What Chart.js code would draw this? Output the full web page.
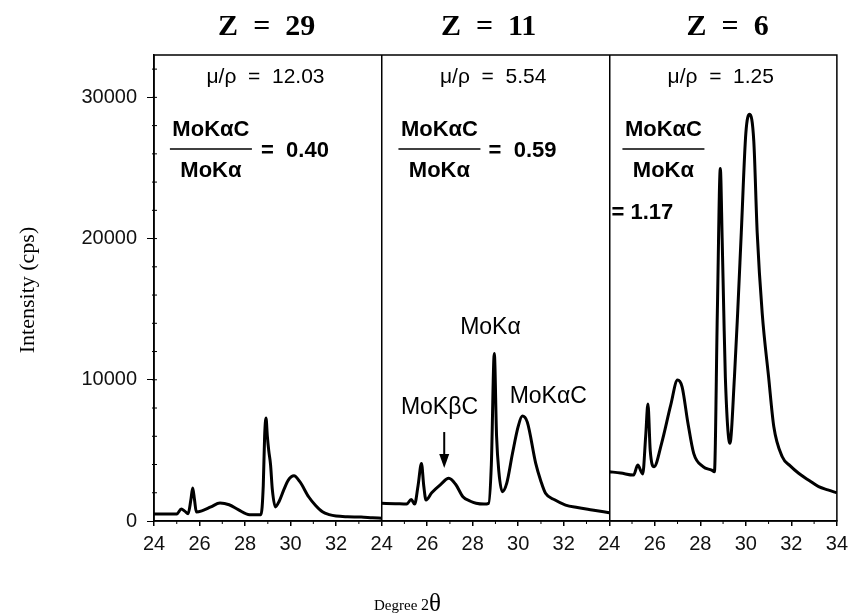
<!DOCTYPE html>
<html lang="en">
<head>
    <meta charset="UTF-8">
    <title>Intensity vs Degree 2θ</title>
    <script src="https://cdn.jsdelivr.net/npm/chart.js"></script>
    <style>
        body { margin: 0; background: #fff; }
        canvas { display: block; }
    </style>
</head>
<body>
    <canvas id="grafica" width="854" height="616"></canvas>

    <script>
        // panel titles and annotations
        const panelTitles = ['Z  =  29', 'Z  =  11', 'Z  =  6'];
        const muRho = ['12.03', '5.54', '1.25'];
        const ratios = ['0.40', '0.59', '1.17'];

        // tick labels (three panels of 24..34 side by side)
        const xTicks = [0, 2, 4, 6, 8, 10, 12, 14, 16, 18, 20, 22, 24, 26, 28, 30];
        const xTickLabels = ['24', '26', '28', '30', '32', '24', '26', '28', '30', '32', '24', '26', '28', '30', '32', '34'];
        const yTicks = [0, 10000, 20000, 30000];

        // Z = 29
        const thetaZ29 = [24, 24.6, 25.0, 25.2, 25.35, 25.5, 25.62, 25.7, 25.78, 25.86, 26.1, 26.5, 26.9, 27.3, 27.7, 28.2, 28.7, 28.8, 28.86, 28.92, 28.98, 29.04, 29.12, 29.2, 29.33, 29.5, 29.7, 29.9, 30.15, 30.4, 30.8, 31.1, 31.4, 31.7, 32.0, 32.5, 33.1, 33.6, 34];
        const intZ29 = [500, 490, 500, 850, 700, 520, 1500, 2330, 1500, 640, 720, 1000, 1270, 1150, 800, 450, 450, 2500, 6000, 7300, 6000, 5000, 4000, 2200, 1000, 1400, 2200, 2900, 3200, 2800, 1700, 1100, 650, 450, 350, 300, 280, 230, 200];

        // Z = 11
        const thetaZ11 = [24, 24.6, 25.1, 25.3, 25.45, 25.6, 25.75, 25.85, 25.95, 26.2, 26.6, 26.95, 27.25, 27.57, 27.9, 28.15, 28.5, 28.7, 28.82, 28.95, 29.05, 29.15, 29.3, 29.5, 29.75, 30.0, 30.18, 30.4, 30.77, 31.0, 31.2, 31.6, 32.08, 32.6, 33.25, 34];
        const intZ11 = [1250, 1230, 1200, 1530, 1200, 2500, 4080, 2500, 1490, 2000, 2600, 3020, 2600, 1720, 1400, 1260, 1200, 1250, 4000, 11870, 6000, 3500, 2080, 2700, 4800, 6700, 7430, 7000, 4080, 2800, 1960, 1500, 1130, 950, 780, 590];

        // Z = 6
        const thetaZ6 = [24, 24.5, 25.07, 25.25, 25.47, 25.6, 25.7, 25.8, 25.97, 26.3, 26.7, 27.0, 27.2, 27.45, 27.71, 28.12, 28.5, 28.62, 28.75, 28.88, 28.96, 29.03, 29.1, 29.3, 29.5, 29.64, 29.8, 30.0, 30.17, 30.35, 30.5, 30.72, 31.0, 31.23, 31.6, 31.95, 32.32, 32.8, 33.2, 33.6, 34];
        const intZ6 = [3490, 3400, 3250, 3960, 3330, 6000, 8280, 5000, 3850, 5500, 8200, 9980, 9500, 7000, 4790, 3850, 3600, 3490, 14900, 24960, 20000, 14900, 10200, 5500, 10200, 14700, 20400, 27450, 28800, 26900, 20400, 14700, 10200, 6670, 4550, 3900, 3380, 2850, 2430, 2200, 2000];

        const SANS = '"Liberation Sans", Arial, sans-serif';
        const SERIF = '"Liberation Serif", "Times New Roman", serif';

        // each panel is shifted by 10 units along one shared x axis
        function panel(theta, vals, offset) {
            return theta.map((t, i) => ({ x: t - 24 + offset, y: vals[i] }));
        }

        const textos = {
            id: 'textos',
            afterDraw(chart) {
                const { ctx, chartArea: a, scales: { x, y } } = chart;
                ctx.save();
                ctx.strokeStyle = '#000';
                ctx.lineWidth = 1.5;
                ctx.strokeRect(a.left, a.top, a.right - a.left, a.bottom - a.top);

                // minor ticks on the y axis
                ctx.lineWidth = 1;
                for (let v = 2000; v < 33000; v += 2000) {
                    const py = y.getPixelForValue(v);
                    ctx.beginPath();
                    ctx.moveTo(a.left - 2, py);
                    ctx.lineTo(a.left + 3, py);
                    ctx.stroke();
                }
                // minor ticks on the x axis
                for (let v = 1; v < 30; v += 2) {
                    const px = x.getPixelForValue(v);
                    ctx.beginPath();
                    ctx.moveTo(px, a.bottom);
                    ctx.lineTo(px, a.bottom + 3);
                    ctx.stroke();
                }

                ctx.fillStyle = '#000';
                ctx.textBaseline = 'middle';
                const titleX = [4.95, 14.7, 25.2];
                const fracX = [2.5, 12.54, 22.38];
                for (let p = 0; p < 3; p++) {
                    // Z title
                    ctx.font = 'bold 30px ' + SERIF;
                    ctx.textAlign = 'center';
                    ctx.fillText(panelTitles[p], x.getPixelForValue(titleX[p]), 27);

                    // mu/rho
                    ctx.font = '21px ' + SANS;
                    ctx.fillText('\u03bc/\u03c1  =  ' + muRho[p], x.getPixelForValue(p * 10 + 4.9), y.getPixelForValue(31400));

                    // fraction
                    const fx = x.getPixelForValue(fracX[p]);
                    ctx.font = 'bold 22px ' + SANS;
                    ctx.fillText('MoK\u03b1C', fx, y.getPixelForValue(27700));
                    ctx.fillText('MoK\u03b1', fx, y.getPixelForValue(24800));
                    ctx.lineWidth = 1.5;
                    ctx.beginPath();
                    ctx.moveTo(fx - 41, y.getPixelForValue(26350));
                    ctx.lineTo(fx + 41, y.getPixelForValue(26350));
                    ctx.stroke();

                    ctx.textAlign = 'left';
                    if (p < 2) {
                        ctx.fillText('=  ' + ratios[p], x.getPixelForValue(p * 10 + 4.7), y.getPixelForValue(26200));
                    } else {
                        ctx.fillText('= ' + ratios[p], x.getPixelForValue(20.1), y.getPixelForValue(21800));
                    }
                }

                // peak labels in the Z = 11 panel
                ctx.font = '23px ' + SANS;
                ctx.textAlign = 'center';
                ctx.fillText('MoK\u03b1', x.getPixelForValue(14.78), y.getPixelForValue(13700));
                ctx.fillText('MoK\u03b2C', x.getPixelForValue(12.54), y.getPixelForValue(8050));
                ctx.fillText('MoK\u03b1C', x.getPixelForValue(17.32), y.getPixelForValue(8780));

                // arrow
                const ax = x.getPixelForValue(12.75);
                const ay1 = y.getPixelForValue(6300);
                const ay2 = y.getPixelForValue(3750);
                ctx.lineWidth = 2;
                ctx.beginPath();
                ctx.moveTo(ax, ay1);
                ctx.lineTo(ax, ay2 - 6);
                ctx.stroke();
                ctx.beginPath();
                ctx.moveTo(ax - 5, ay2 - 14);
                ctx.lineTo(ax + 5, ay2 - 14);
                ctx.lineTo(ax, ay2);
                ctx.closePath();
                ctx.fill();

                // axis titles
                ctx.font = '22px ' + SERIF;
                ctx.save();
                ctx.translate(28, 290);
                ctx.rotate(-Math.PI / 2);
                ctx.textAlign = 'center';
                ctx.fillText('Intensity (cps)', 0, 0);
                ctx.restore();

                ctx.textAlign = 'left';
                ctx.textBaseline = 'alphabetic';
                ctx.font = '15px ' + SERIF;
                ctx.fillText('Degree ', 374, 610);
                const w = ctx.measureText('Degree ').width;
                ctx.font = '16px ' + SERIF;
                ctx.fillText('2', 374 + w, 610);
                const w2 = ctx.measureText('2').width;
                ctx.font = '25px ' + SERIF;
                ctx.fillText('\u03b8', 374 + w + w2, 611);
                ctx.restore();
            }
        };

        new Chart(document.getElementById('grafica'), {
            type: 'line',
            data: {
                datasets: [
                    { data: panel(thetaZ29, intZ29, 0) },
                    { data: panel(thetaZ11, intZ11, 10) },
                    { data: panel(thetaZ6, intZ6, 20) }
                ].map(d => Object.assign(d, {
                    borderColor: '#000',
                    borderWidth: 3,
                    pointRadius: 0,
                    fill: false,
                    cubicInterpolationMode: 'monotone'
                }))
            },
            options: {
                responsive: false,
                animation: false,
                layout: { padding: { top: 55, right: 14, left: 0, bottom: 0 } },
                plugins: { legend: { display: false }, tooltip: { enabled: false } },
                scales: {
                    x: {
                        type: 'linear',
                        min: 0,
                        max: 30,
                        afterBuildTicks: s => { s.ticks = xTicks.map(v => ({ value: v })); },
                        afterFit: s => { s.height = 95; },
                        ticks: {
                            autoSkip: false,
                            maxRotation: 0,
                            padding: 6,
                            color: '#111',
                            font: { family: SANS, size: 20 },
                            callback: (v, i) => xTickLabels[i]
                        },
                        grid: {
                            color: c => (c.tick && (c.tick.value === 10 || c.tick.value === 20)) ? '#000' : 'rgba(0,0,0,0)',
                            lineWidth: 1.5,
                            tickColor: '#000',
                            tickLength: 5
                        },
                        border: { display: true, color: '#000', width: 1.5 }
                    },
                    y: {
                        min: 0,
                        max: 33000,
                        afterBuildTicks: s => { s.ticks = yTicks.map(v => ({ value: v })); },
                        afterFit: s => { s.width = 154; },
                        ticks: {
                            padding: 10,
                            color: '#111',
                            font: { family: SANS, size: 20 },
                            callback: v => String(v)
                        },
                        grid: {
                            drawOnChartArea: false,
                            tickColor: '#000',
                            tickLength: 7
                        },
                        border: { display: true, color: '#000', width: 1.5 }
                    }
                }
            },
            plugins: [textos]
        });
    </script>
</body>
</html>
